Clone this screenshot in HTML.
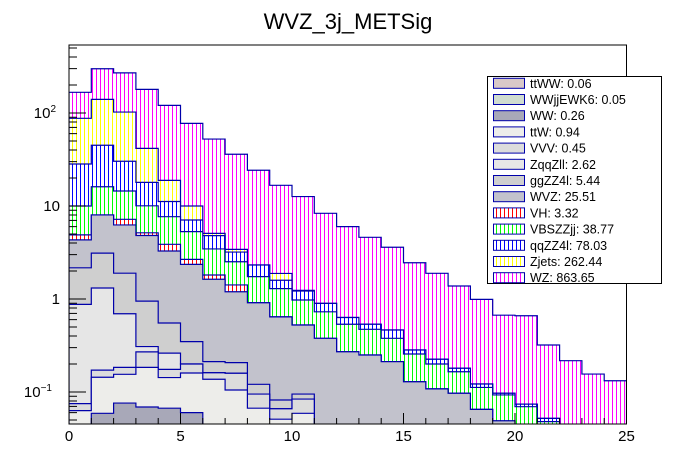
<!DOCTYPE html>
<html><head><meta charset="utf-8">
<style>
html,body{margin:0;padding:0;background:#fff;}
svg{display:block;font-family:"Liberation Sans",Arial,sans-serif;}
</style></head>
<body>
<svg id="chart" width="696" height="472" viewBox="0 0 696 472" xmlns="http://www.w3.org/2000/svg">
<defs>
  <pattern id="vWZ" patternUnits="userSpaceOnUse" width="4" height="4"><rect width="4" height="4" fill="#fff"/><rect x="0" width="1" height="4" fill="#ff00ff"/></pattern>
  <pattern id="vZj" patternUnits="userSpaceOnUse" width="4" height="4"><rect width="4" height="4" fill="#fff"/><rect x="0" width="1" height="4" fill="#ffff00"/></pattern>
  <pattern id="vQQ" patternUnits="userSpaceOnUse" width="4" height="4"><rect width="4" height="4" fill="#fff"/><rect x="0" width="1" height="4" fill="#0000ff"/></pattern>
  <pattern id="vVBS" patternUnits="userSpaceOnUse" width="4" height="4"><rect width="4" height="4" fill="#fff"/><rect x="0" width="1" height="4" fill="#00ff00"/></pattern>
  <pattern id="vVH" patternUnits="userSpaceOnUse" width="4" height="4"><rect width="4" height="4" fill="#fff"/><rect x="0" width="1" height="4" fill="#ff0000"/></pattern>
  <clipPath id="plotClip"><rect x="69" y="45" width="557.5" height="379"/></clipPath>
</defs>
<text x="348" y="29" font-size="22" text-anchor="middle" fill="#000">WVZ_3j_METSig</text>
<g id="stack" clip-path="url(#plotClip)"></g>
<rect x="69" y="45" width="557.5" height="379" fill="none" stroke="#000" stroke-width="1"/>
<g id="axes"></g>
<g id="legend">
  <rect x="487.5" y="76.5" width="174" height="207" fill="#fff" stroke="#000" stroke-width="1"/>
</g>
</svg>
<script>
const binEdgesMin = 0, binEdgesMax = 25;
const layerNames = ["ttWW","WWjjEWK6","WW","ttW","VVV","ZqqZll","ggZZ4l","WVZ","VH","VBSZZjj","qqZZ4l","Zjets","WZ"];
const legendTotals = ["0.06","0.05","0.26","0.94","0.45","2.62","5.44","25.51","3.32","38.77","78.03","262.44","863.65"];
const ttWW = [0.005,0.005,0.005,0.005,0.003,0,0,0,0,0,0,0,0,0,0,0,0,0,0,0,0,0,0,0,0];
const WWjjEWK6 = [0.004,0.004,0.004,0.004,0.003,0,0,0,0,0,0,0,0,0,0,0,0,0,0,0,0,0,0,0,0];
const WW = [0,0.05,0.067,0.06,0.061,0.06,0.04,0,0,0,0,0,0,0,0,0,0,0,0,0,0,0,0,0,0];
const ttW = [0.054,0.085,0.079,0.115,0.076,0.1,0.097,0.105,0.067,0.051,0.059,0,0,0,0,0,0,0,0,0,0,0,0,0,0];
const VVV = [0.012,0.028,0.029,0.086,0.032,0.04,0.024,0.054,0.028,0.015,0.025,0,0,0,0,0,0,0,0,0,0,0,0,0,0];
const ZqqZll = [0.80,1.14,0.51,0.038,0.087,0,0,0,0,0,0,0,0,0,0,0,0,0,0,0,0,0,0,0,0];
const ggZZ4l = [1.29,1.8,1.2,0.64,0.29,0.148,0.051,0.048,0.026,0.016,0.011,0,0,0,0,0,0,0,0,0,0,0,0,0,0];
const WVZ = [2.16,4.9,4.36,3.87,2.73,2.01,1.42,0.99,0.79,0.56,0.43,0.378,0.271,0.25,0.212,0.129,0.108,0.097,0.065,0.049,0,0,0,0,0];
const VH = [0.57,0,0.94,0.33,0.59,0.31,0.18,0.22,0,0,0,0,0,0,0,0,0,0,0,0,0,0,0,0,0];
const VBSZZjj = [5.1,8.1,7.3,4.9,3.8,2.63,1.64,1.10,0.83,0.65,0.45,0.35,0.264,0.222,0.166,0.127,0.092,0.068,0.047,0.044,0.0695,0.048,0,0,0];
const qqZZ4l = [18.3,28.9,15.8,7.9,3.5,1.77,1.35,0.68,0.58,0.3,0.245,0.17,0.097,0.063,0.086,0.027,0.025,0.015,0.01,0.004,0.0045,0.004,0,0,0];
const Zjets = [59.4,95,72,23.7,7.7,2.93,0.28,0.22,0,0.29,0.02,0,0,0,0,0,0,0,0,0,0,0,0,0,0];
const WZ = [79.3,159,168,138,102,67.4,47.4,32.6,21.9,14.8,11.4,7.45,5.37,4.07,3.14,2.17,1.665,1.2,0.868,0.573,0.586,0.268,0.217,0.156,0.132];
const xTickLabels = ["0","5","10","15","20","25"];
const yMajorTicks = [0.1,1,10,100];

const layers = [ttWW,WWjjEWK6,WW,ttW,VVV,ZqqZll,ggZZ4l,WVZ,VH,VBSZZjj,qqZZ4l,Zjets,WZ];
const fills = ["#d8c8c8","#d0dcd0","#a8a8b8","#ededea","#dcdcdc","#e6e6e6","#cfcfcf","#c2c2cc","url(#vVH)","url(#vVBS)","url(#vQQ)","url(#vZj)","url(#vWZ)"];
const NS = "http://www.w3.org/2000/svg";
const PL = 69, PR = 626.5, PT = 45, PB = 424;
function X(v){ return PL + (v - binEdgesMin) / (binEdgesMax - binEdgesMin) * (PR - PL); }
function Y(v){ if (v <= 0) return PB + 5; const y = 299 - 93 * Math.log10(v); return Math.min(y, PB + 5); }

const stackG = document.getElementById('stack');
const nb = WZ.length;
const cum = [];
let run = new Array(nb).fill(0);
for (let i = 0; i < layers.length; i++) {
  run = run.map((r, b) => r + layers[i][b]);
  cum.push(run.slice());
}
for (let i = layers.length - 1; i >= 0; i--) {
  let d = "M" + X(0) + "," + (PB + 5);
  for (let b = 0; b < nb; b++) {
    const y = Y(cum[i][b]);
    d += " L" + X(b) + "," + y + " L" + X(b + 1) + "," + y;
  }
  d += " L" + X(nb) + "," + (PB + 5) + " Z";
  const p = document.createElementNS(NS, "path");
  p.setAttribute("d", d);
  p.setAttribute("fill", fills[i]);
  p.setAttribute("stroke", "#0000aa");
  p.setAttribute("stroke-width", "1.2");
  
  
  stackG.appendChild(p);
}

const axes = document.getElementById('axes');
function line(x1,y1,x2,y2){
  const l = document.createElementNS(NS,"line");
  l.setAttribute("x1",x1);l.setAttribute("y1",y1);l.setAttribute("x2",x2);l.setAttribute("y2",y2);
  l.setAttribute("stroke","#000");l.setAttribute("stroke-width","1");
  
  
  axes.appendChild(l);
}
for (let v = 0; v <= 25; v++) {
  const major = v % 5 === 0;
  line(X(v), PB, X(v), PB - (major ? 11 : 6));
}
xTickLabels.forEach(s => {
  const t = document.createElementNS(NS,"text");
  t.setAttribute("x", X(+s)); t.setAttribute("y", 441);
  t.setAttribute("font-size","15"); t.setAttribute("text-anchor","middle");
  t.textContent = s;
  
  
  axes.appendChild(t);
});
for (let e = -2; e <= 2; e++) {
  for (let m = 1; m <= 9; m++) {
    const v = m * Math.pow(10, e);
    const y = Y(v);
    if (y < PT || y > PB) continue;
    line(PL, y, PL + (m === 1 ? 17 : 8), y);
  }
}
const yLabelText = {"0.1":["10","−1"],"1":["1",""],"10":["10",""],"100":["10","2"]};
yMajorTicks.forEach(v => {
  const lab = yLabelText[String(v)];
  const t = document.createElementNS(NS,"text");
  t.setAttribute("x", 60); t.setAttribute("y", Y(v) + 5);
  t.setAttribute("font-size","15"); t.setAttribute("text-anchor","end");
  t.textContent = lab[0];
  if (lab[1]) {
    t.setAttribute("x", lab[1].length > 1 ? 52 : 56);
    const s = document.createElementNS(NS,"tspan");
    s.setAttribute("font-size","10"); s.setAttribute("dy","-6");
    s.textContent = lab[1];
    t.appendChild(s);
  }
  
  
  axes.appendChild(t);
});

const leg = document.getElementById('legend');
for (let i = 0; i < layerNames.length; i++) {
  const y = 83.3 + i * 16.2;
  const r = document.createElementNS(NS,"rect");
  r.setAttribute("x", 493.5); r.setAttribute("y", y - 5); r.setAttribute("width", 31); r.setAttribute("height", 10);
  r.setAttribute("fill", fills[i]); r.setAttribute("stroke", "#0000aa"); r.setAttribute("stroke-width","1");
  
  
  leg.appendChild(r);
  const t = document.createElementNS(NS,"text");
  t.setAttribute("x", 530); t.setAttribute("y", y + 4.5);
  t.setAttribute("font-size","12.5");
  t.textContent = layerNames[i] + ": " + legendTotals[i];
  
  
  leg.appendChild(t);
}
</script>
</body></html>
